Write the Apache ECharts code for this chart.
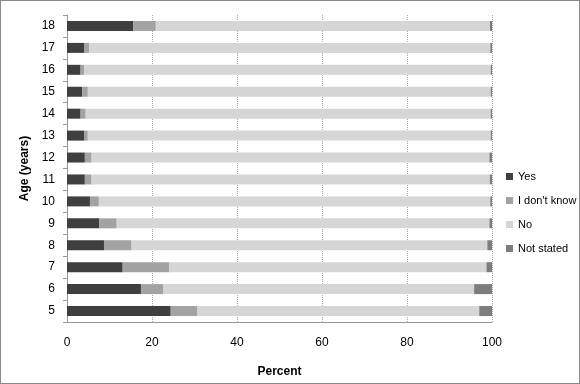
<!DOCTYPE html>
<html><head><meta charset="utf-8">
<script src="https://cdn.jsdelivr.net/npm/echarts@6/dist/echarts.min.js"></script>
<style>html,body{margin:0;padding:0;background:#fff}#c{width:578px;height:382px;border:1px solid #8a8a8a}</style>
</head><body><div id="c"></div>
<script>
const ages = ['5','6','7','8','9','10','11','12','13','14','15','16','17','18'];
const yes =       [24.4, 17.4, 13.1, 8.7, 7.6, 5.4, 4.2, 4.2, 4.0, 3.2, 3.6, 3.2, 4.0, 15.6];
const dontKnow =  [6.3, 5.3, 11.0, 6.5, 4.1, 2.1, 1.6, 1.6, 0.9, 1.2, 1.3, 0.8, 1.2, 5.3];
const notStated = [3.0, 4.2, 1.3, 1.1, 0.6, 0.4, 0.5, 0.6, 0.3, 0.3, 0.3, 0.3, 0.4, 0.5];
const no = ages.map((a,i)=>+(100 - yes[i] - dontKnow[i] - notStated[i]).toFixed(1));
const xTicks = [0,20,40,60,80,100];

const font = 'Liberation Sans';
function s(name, data, color){
  return {name, type:'bar', stack:'t', data, barWidth:10,
    itemStyle:{color, borderColor:color, borderWidth:0}};
}
const chart = echarts.init(document.getElementById('c'));
chart.setOption({
  animation:false,
  textStyle:{fontFamily:font},
  grid:{left:66, right:87, top:14, bottom:59, containLabel:false},
  xAxis:{type:'value', min:0, max:100, interval:20,
    name:'Percent', nameLocation:'middle', nameGap:44,
    nameTextStyle:{fontWeight:'bold', fontSize:12, color:'#000'},
    axisLabel:{color:'#000', fontSize:12, margin:15},
    axisLine:{show:true, lineStyle:{color:'#999'}},
    axisTick:{show:false},
    splitLine:{lineStyle:{color:'#aaa', type:'dotted'}}},
  yAxis:{type:'category', data:ages,
    name:'Age (years)', nameLocation:'middle', nameGap:32, nameRotate:90,
    nameTextStyle:{fontWeight:'bold', fontSize:12, color:'#000'},
    axisLabel:{color:'#000', fontSize:12, margin:12},
    axisLine:{lineStyle:{color:'#999'}},
    axisTick:{show:true, length:4, lineStyle:{color:'#999'}}},
  legend:{orient:'vertical', left:500, top:165, itemWidth:7, itemHeight:7, itemGap:13,
    icon:'rect', textStyle:{fontSize:11, color:'#000'},
    data:['Yes',"I don't know",'No','Not stated']},
  series:[
    s('Yes', yes, '#3f3f3f'),
    s("I don't know", dontKnow, '#a3a3a3'),
    s('No', no, '#d6d6d6'),
    s('Not stated', notStated, '#7d7d7d')
  ]
});
</script></body></html>
